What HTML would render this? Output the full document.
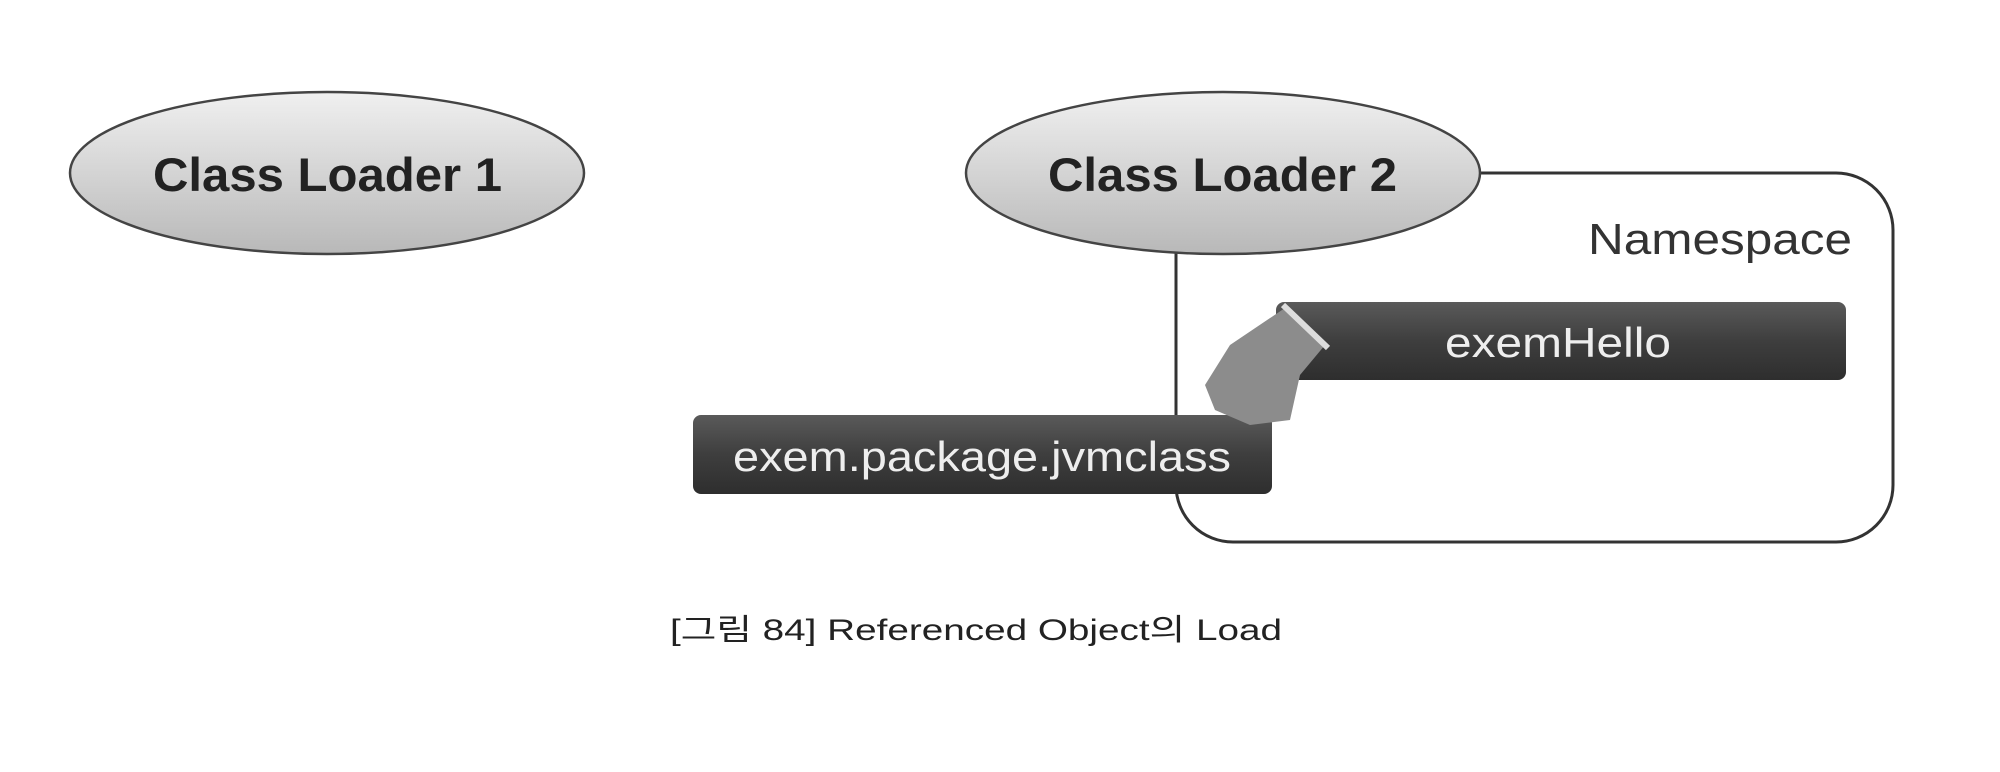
<!DOCTYPE html>
<html><head><meta charset="utf-8"><style>
html,body{margin:0;padding:0;background:#fff;}
body{width:2000px;height:772px;overflow:hidden;position:relative;font-family:"Liberation Sans","Noto Sans CJK KR",sans-serif;}
</style></head><body>
<svg width="2000" height="772" viewBox="0 0 2000 772" xmlns="http://www.w3.org/2000/svg" style="position:absolute;left:0;top:0">
<defs>
<linearGradient id="eg" x1="0" y1="0" x2="0" y2="1">
<stop offset="0" stop-color="#f0f0f0"/><stop offset="1" stop-color="#b8b8b8"/>
</linearGradient>
<linearGradient id="bg" x1="0" y1="0" x2="0" y2="1">
<stop offset="0" stop-color="#5a5a5a"/><stop offset="0.5" stop-color="#3e3e3e"/><stop offset="1" stop-color="#2e2e2e"/>
</linearGradient>
</defs>
<rect x="1176" y="173" width="717" height="369" rx="57" fill="#fff" stroke="#333" stroke-width="3"/>
<ellipse cx="327" cy="173" rx="257" ry="81" fill="url(#eg)" stroke="#444" stroke-width="2.5"/>
<ellipse cx="1223" cy="173" rx="257" ry="81" fill="url(#eg)" stroke="#444" stroke-width="2.5"/>
<text x="153" y="191" font-size="47" font-weight="bold" fill="#222" textLength="349" lengthAdjust="spacingAndGlyphs" font-family="Liberation Sans, sans-serif">Class Loader 1</text>
<text x="1048" y="191" font-size="47" font-weight="bold" fill="#222" textLength="349" lengthAdjust="spacingAndGlyphs" font-family="Liberation Sans, sans-serif">Class Loader 2</text>
<text x="1588" y="254" font-size="44" fill="#333" textLength="264" lengthAdjust="spacingAndGlyphs" font-family="Liberation Sans, sans-serif">Namespace</text>
<rect x="1276" y="302" width="570" height="78" rx="8" fill="url(#bg)"/>
<text x="1445" y="357" font-size="42" fill="#eee" textLength="226" lengthAdjust="spacingAndGlyphs" font-family="Liberation Sans, sans-serif">exemHello</text>
<rect x="693" y="415" width="579" height="79" rx="8" fill="url(#bg)"/>
<text x="733" y="471" font-size="42" fill="#eee" textLength="498" lengthAdjust="spacingAndGlyphs" font-family="Liberation Sans, sans-serif">exem.package.jvmclass</text>
<path d="M1285 308 L1325 345 L1300 375 L1290 420 L1250 425 L1215 410 L1205 385 L1230 345 Z" fill="#8c8c8c"/>
<path d="M1283 305 L1328 348" stroke="#ddd" stroke-width="6"/>
<text x="670" y="640" font-size="30" fill="#222" textLength="612" lengthAdjust="spacingAndGlyphs" font-family="Liberation Sans, 'Noto Sans CJK KR', sans-serif">[그림 84] Referenced Object의 Load</text>
</svg>
</body></html>
